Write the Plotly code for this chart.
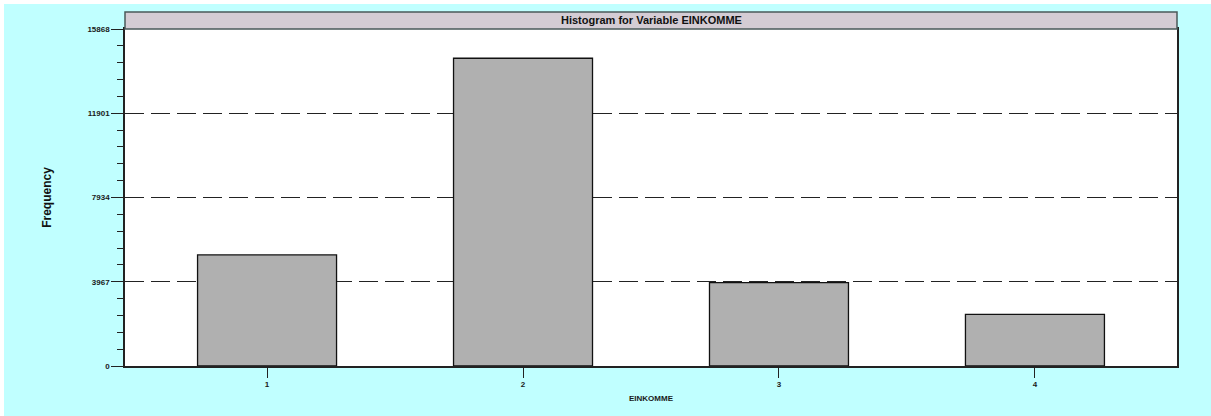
import plotly.graph_objects as go

categories = [1, 2, 3, 4]
cat_labels = ["1", "2", "3", "4"]
frequencies = [5230, 14490, 3925, 2435]
y_tickvals = [0, 3967, 7934, 11901, 15868]
y_ticklabels = ["0", "3967", "7934", "11901", "15868"]

title_text = "Histogram for Variable EINKOMME"
x_title = "EINKOMME"
y_title = "Frequency"

W, H = 1211, 416
L, R, T, B = 125, 34, 29, 50
pw, ph = W - L - R, H - T - B

fig = go.Figure()
fig.add_trace(go.Bar(
    x=categories, y=frequencies, width=0.543,
    marker=dict(color="#b0b0b0", line=dict(color="#111111", width=1.3)),
    hoverinfo="x+y",
))

font_bold = dict(family="Arial, Liberation Sans", size=8, color="#1a1a1a", weight="bold")

fig.update_layout(
    width=W, height=H,
    margin=dict(l=L, r=R, t=T, b=B, pad=0),
    paper_bgcolor="#c0ffff",
    plot_bgcolor="white",
    showlegend=False,
    xaxis=dict(
        range=[0.445, 4.555], tickvals=categories, ticktext=cat_labels,
        showgrid=False, zeroline=False,
        showline=True, linecolor="#222222", linewidth=1.5, mirror=True,
        ticks="outside", ticklen=10, tickcolor="#222222", tickwidth=1.3,
        tickfont=font_bold,
        title=dict(text=x_title, font=font_bold, standoff=7),
    ),
    yaxis=dict(
        range=[0, 15868], tickvals=y_tickvals, ticktext=y_ticklabels,
        showgrid=True, gridcolor="#222222", gridwidth=1.3, griddash="19px,7px",
        zeroline=False,
        showline=True, linecolor="#222222", linewidth=1.5, mirror=True,
        ticks="outside", ticklen=12, tickcolor="#222222", tickwidth=1.3,
        tickfont=font_bold,
        minor=dict(dtick=793.4, ticks="outside", ticklen=6, tickcolor="#222222",
                   tickwidth=1.3, showgrid=False),
        title=dict(text=y_title, font=dict(family="Arial, Liberation Sans", size=12,
                                           color="#111111", weight="bold"), standoff=33),
    ),
)

# title strip above the plot area
fig.add_shape(type="rect", xref="paper", yref="paper",
              x0=0, x1=1, y0=1, y1=1 + 17 / ph,
              fillcolor="#d4ccd4", line=dict(color="#4a5a5a", width=1.5))
fig.add_annotation(text=title_text, xref="paper", yref="paper",
                   x=0.5, y=1 + 8.5 / ph, showarrow=False,
                   font=dict(family="Arial, Liberation Sans", size=11, color="#111111", weight="bold"),
                   xanchor="center", yanchor="middle")

# thin white frame on the top and left of the cyan page
fig.add_shape(type="rect", xref="paper", yref="paper",
              x0=-L / pw, x1=-(L - 4) / pw, y0=-B / ph, y1=1 + T / ph,
              fillcolor="white", line=dict(width=0))
fig.add_shape(type="rect", xref="paper", yref="paper",
              x0=-L / pw, x1=1 + R / pw, y0=1 + (T - 4) / ph, y1=1 + T / ph,
              fillcolor="white", line=dict(width=0))

fig.write_html("out.html", config={"displayModeBar": False},
               post_script="document.body.style.margin='0';document.body.style.overflow='hidden';"
                           "document.body.style.background='#c0ffff';")
